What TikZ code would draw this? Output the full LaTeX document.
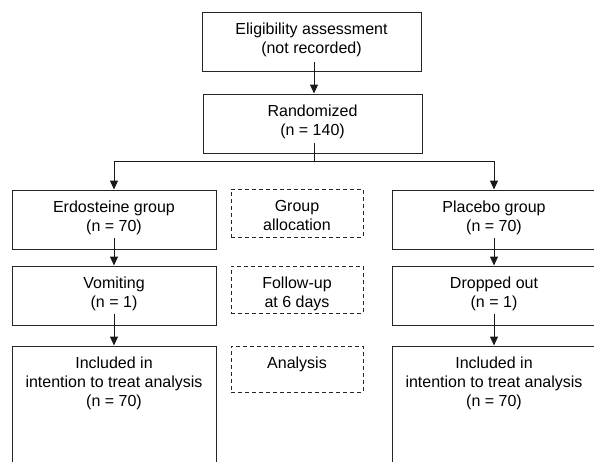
\documentclass[tikz,border=0pt]{standalone}
\usepackage{fontspec}
\setmainfont{Liberation Sans}
\usetikzlibrary{arrows.meta}
\begin{document}
\begin{tikzpicture}[x=1pt,y=-1pt,
  box/.style={draw=black!85,line width=1pt,rectangle,inner sep=0pt,minimum width=#1},
  box/.default=204,
  dbox/.style={draw=black!85,line width=0.9pt,dash pattern=on 4pt off 3pt,rectangle,inner sep=0pt,minimum width=132},
  txt/.style={anchor=north,inner sep=0pt,align=center,font=\fontsize{16}{19}\selectfont},
  arr/.style={draw=black!90,line width=1pt,-{Triangle[width=8pt,length=9pt]}},
  ln/.style={draw=black!90,line width=1pt}]
\useasboundingbox (0,0) rectangle (594,461);
\clip (0,0) rectangle (594,461);
% boxes
\node[box=219,minimum height=59] (elig) at (311.5,41.5) {};
\node[box=219,minimum height=59] (rand) at (312.5,123.5) {};
\node[box,minimum height=59] (erd) at (114,219.5) {};
\node[box,minimum height=59] (vom) at (114,295.5) {};
\node[box,minimum height=130] (incl) at (114,411) {};
\node[box,minimum height=59] (plc) at (494,219.5) {};
\node[box,minimum height=59] (drop) at (494,295.5) {};
\node[box,minimum height=130] (incr) at (494,411) {};
\node[dbox,minimum height=48] (ga) at (297,213) {};
\node[dbox,minimum height=47] (fu) at (297,289.5) {};
\node[dbox,minimum height=46] (an) at (297,369) {};
% texts
\node[txt] (t1) at ([yshift=-11.5]elig.north) {Eligibility assessment\\(not recorded)};
\node[txt] (t2) at ([yshift=-11.5]rand.north) {Randomized\\(n = 140)};
\node[txt] (t3) at ([yshift=-11.5]erd.north) {Erdosteine group\\(n = 70)};
\node[txt] (t4) at ([yshift=-11.5]vom.north) {Vomiting\\(n = 1)};
\node[txt] (t5) at ([yshift=-11.5]incl.north) {Included in\\intention to treat analysis\\(n = 70)};
\node[txt] (t6) at ([yshift=-11.5]plc.north) {Placebo group\\(n = 70)};
\node[txt] (t7) at ([yshift=-11.5]drop.north) {Dropped out\\(n = 1)};
\node[txt] (t8) at ([yshift=-11.5]incr.north) {Included in\\intention to treat analysis\\(n = 70)};
\node[txt] (t9) at ([yshift=-11.5]ga.north) {Group\\allocation};
\node[txt] (t10) at ([yshift=-11.5]fu.north) {Follow-up\\at 6 days};
\node[txt] (t11) at ([yshift=-11.5]an.north) {Analysis};
% connectors
\coordinate (mid) at (314,0);
\coordinate (br) at (314,161);
\draw[arr] ([yshift=10]elig.south -| mid) -- (rand.north -| mid);
\draw[ln] ([yshift=11]rand.south -| mid) -- (br);
\draw[arr] (br) -| (erd.north);
\draw[arr] (br) -| (plc.north);
\draw[arr] ([yshift=12]erd.south) -- (vom.north);
\draw[arr] ([yshift=12]vom.south) -- (incl.north);
\draw[arr] ([yshift=12]plc.south) -- (drop.north);
\draw[arr] ([yshift=12]drop.south) -- (incr.north);
\end{tikzpicture}
\end{document}
